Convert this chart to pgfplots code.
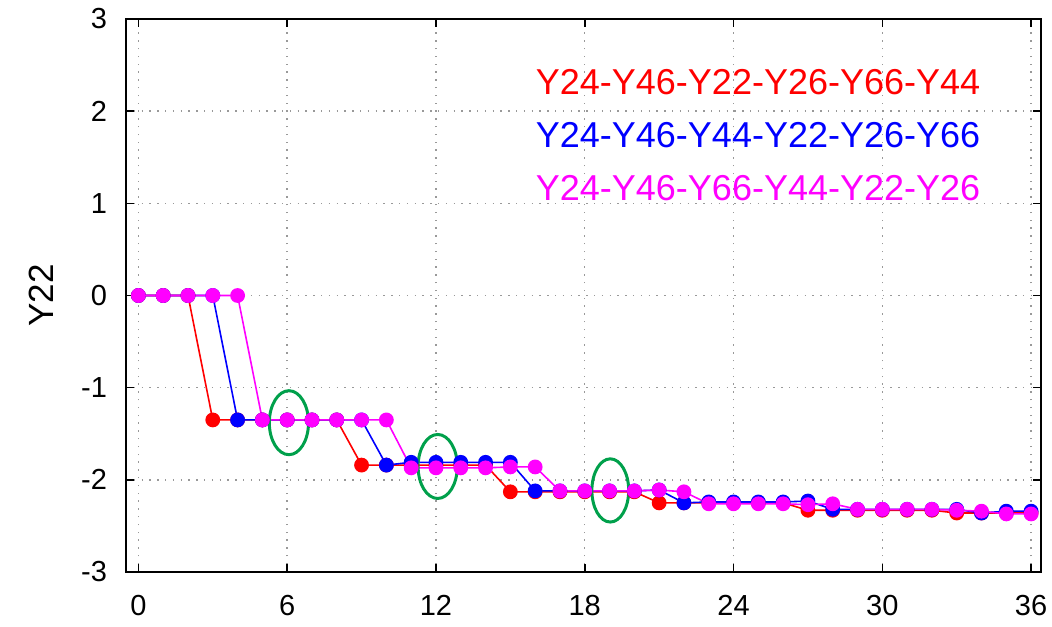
\documentclass[border=0pt]{standalone}
\usepackage{fontspec}
\setmainfont{Liberation Sans}
\usepackage{pgfplots}
\pgfplotsset{compat=1.18}
\definecolor{ellgreen}{RGB}{0,160,75}
\definecolor{pred}{RGB}{255,0,0}
\definecolor{pblue}{RGB}{0,0,255}
\definecolor{pmag}{RGB}{255,0,255}
\begin{document}
\begin{tikzpicture}
\begin{axis}[
  scale only axis,
  width=457.5pt, height=276.5pt,
  xmin=-0.5, xmax=36.4, ymin=-3, ymax=3,
  xtick={0,6,12,18,24,30,36},
  ytick={-3,-2,-1,0,1,2,3},
  /pgf/number format/assume math mode=true,
  tick label style={font=\fontsize{14.5}{17}\selectfont},
  xticklabel style={yshift=-8pt},
  yticklabel style={xshift=-6pt},
  major tick length=4pt,
  tick style={black, line width=0.8pt},
  axis line style={black, line width=1pt},
  grid=major,
  major grid style={gray!80, line width=0.7pt, dash pattern=on 0.7pt off 3.2pt},
  ylabel={Y22},
  ylabel style={font=\fontsize{17.5}{20}\selectfont, at={(axis description cs:-0.079,0.5)}, anchor=south, inner sep=0pt},
  legend image code/.code={},
  legend style={draw=none, fill=none, at={(axis description cs:0.441,0.917)}, anchor=north west,
     row sep=14pt, font=\fontsize{18}{20}\selectfont,
     nodes={inner sep=0pt, text height=12.5pt, text depth=0pt}},
  legend cell align=left,
]
\addplot[pred, line width=0.8pt, mark=*, mark size=3.3pt, mark options={solid, fill=pred, draw=pred}] coordinates {
(0,0) (1,0) (2,0) (3,-1.35) (4,-1.35) (5,-1.35) (6,-1.35) (7,-1.35) (8,-1.35)
(9,-1.84) (10,-1.84) (11,-1.84) (12,-1.84) (13,-1.84) (14,-1.84)
(15,-2.13) (16,-2.13) (17,-2.13) (18,-2.13) (19,-2.13) (20,-2.13)
(21,-2.25) (22,-2.25) (23,-2.25) (24,-2.25) (25,-2.25) (26,-2.25)
(27,-2.33) (28,-2.33) (29,-2.33) (30,-2.33) (31,-2.33) (32,-2.33)
(33,-2.36) (34,-2.36) (35,-2.36) (36,-2.36)};
\addlegendentry{\textcolor{pred}{Y24-Y46-Y22-Y26-Y66-Y44}}
\addplot[pblue, line width=0.8pt, mark=*, mark size=3.3pt, mark options={solid, fill=pblue, draw=pblue}] coordinates {
(0,0) (1,0) (2,0) (3,0) (4,-1.35) (5,-1.35) (6,-1.35) (7,-1.35) (8,-1.35) (9,-1.35)
(10,-1.84) (11,-1.81) (12,-1.81) (13,-1.81) (14,-1.81) (15,-1.81)
(16,-2.12) (17,-2.12) (18,-2.12) (19,-2.12) (20,-2.12) (21,-2.11)
(22,-2.25) (23,-2.24) (24,-2.24) (25,-2.24) (26,-2.24) (27,-2.23)
(28,-2.32) (29,-2.32) (30,-2.32) (31,-2.32) (32,-2.32) (33,-2.32)
(34,-2.36) (35,-2.34) (36,-2.34)};
\addlegendentry{\textcolor{pblue}{Y24-Y46-Y44-Y22-Y26-Y66}}
\addplot[pmag, line width=0.8pt, mark=*, mark size=3.3pt, mark options={solid, fill=pmag, draw=pmag}] coordinates {
(0,0) (1,0) (2,0) (3,0) (4,0) (5,-1.35) (6,-1.35) (7,-1.35) (8,-1.35) (9,-1.35) (10,-1.35)
(11,-1.87) (12,-1.87) (13,-1.87) (14,-1.87) (15,-1.86) (16,-1.86)
(17,-2.12) (18,-2.12) (19,-2.12) (20,-2.12) (21,-2.11) (22,-2.13)
(23,-2.26) (24,-2.26) (25,-2.26) (26,-2.26) (27,-2.27) (28,-2.26)
(29,-2.32) (30,-2.32) (31,-2.32) (32,-2.32) (33,-2.33) (34,-2.34) (35,-2.37) (36,-2.37)};
\addlegendentry{\textcolor{pmag}{Y24-Y46-Y66-Y44-Y22-Y26}}
\draw[ellgreen, line width=1.5pt] (axis cs:6.07,-1.38) ellipse [x radius=9.8pt, y radius=16pt];
\draw[ellgreen, line width=1.5pt] (axis cs:12.07,-1.855) ellipse [x radius=9.8pt, y radius=16pt];
\draw[ellgreen, line width=1.5pt] (axis cs:19.03,-2.115) ellipse [x radius=9.2pt, y radius=15.8pt];
\end{axis}
\pgfresetboundingbox
\path[use as bounding box] ([shift={(-63pt,-27pt)}]current axis.south west) rectangle ([shift={(5.5pt,9.5pt)}]current axis.north east);
\end{tikzpicture}
\end{document}
